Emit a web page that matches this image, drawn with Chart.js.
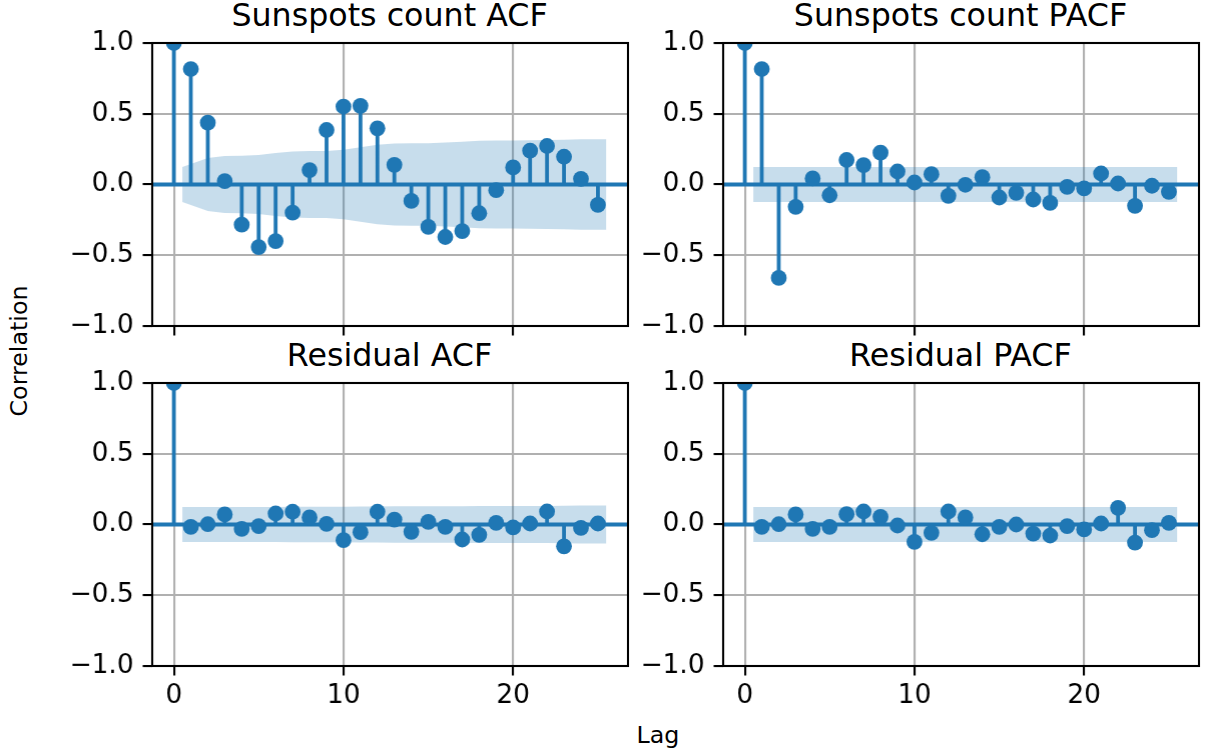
<!DOCTYPE html>
<html><head><meta charset="utf-8">
<script src="https://cdn.jsdelivr.net/npm/chart.js@4.4.0/dist/chart.umd.min.js"></script>
<style>
html,body{margin:0;padding:0;background:#fff;}
body{width:1208px;height:754px;overflow:hidden;position:relative;font-family:"DejaVu Sans";color:#000;}
canvas{position:absolute;}
.txt{position:absolute;line-height:1;white-space:nowrap;}
.title{font-size:31.7px;transform:translateX(-50%);}
</style></head><body>
<div class="txt title" id="t0"></div>
<div class="txt title" id="t1"></div>
<div class="txt title" id="t2"></div>
<div class="txt title" id="t3"></div>
<div class="txt" id="ylab" style="font-size:23.75px;left:20px;top:351px;transform:translate(-50%,-50%) rotate(-90deg);"></div>
<div class="txt" id="xlab" style="font-size:23.75px;left:658px;top:724px;transform:translateX(-50%);"></div>
<canvas id="c0" width="640" height="360"></canvas>
<canvas id="c1" width="590" height="360"></canvas>
<canvas id="c2" width="640" height="380"></canvas>
<canvas id="c3" width="590" height="380"></canvas>
<script>
// ---- data ----
const titles = ["Sunspots count ACF", "Sunspots count PACF", "Residual ACF", "Residual PACF"];
const yLabel = "Correlation";
const xLabel = "Lag";
const lags = [0,1,2,3,4,5,6,7,8,9,10,11,12,13,14,15,16,17,18,19,20,21,22,23,24,25];
const sunspotsAcf = [1.0,0.816,0.437,0.024,-0.284,-0.442,-0.400,-0.199,0.102,0.385,0.551,0.556,0.397,0.139,-0.116,-0.300,-0.371,-0.329,-0.203,-0.040,0.121,0.239,0.272,0.196,0.040,-0.144];
const sunspotsPacf = [1.0,0.816,-0.660,-0.158,0.043,-0.076,0.173,0.137,0.225,0.092,0.014,0.073,-0.080,-0.002,0.052,-0.092,-0.059,-0.106,-0.130,-0.017,-0.028,0.078,0.007,-0.151,-0.009,-0.052];
const residualAcf = [1.0,-0.017,0.002,0.071,-0.031,-0.012,0.078,0.090,0.050,0.005,-0.111,-0.054,0.090,0.035,-0.052,0.019,-0.017,-0.106,-0.073,0.012,-0.021,0.007,0.092,-0.154,-0.024,0.007];
const residualPacf = [1.0,-0.017,0.002,0.071,-0.031,-0.017,0.073,0.092,0.054,-0.007,-0.123,-0.059,0.092,0.050,-0.069,-0.017,0.000,-0.064,-0.078,-0.012,-0.035,0.007,0.118,-0.128,-0.040,0.012];
const bandLags = [0.5,2,3,4,5,6,7,8,9,10,11,12,13,14,15,16,17,18,19,20,21,22,23,24,25.5];
const sunspotsAcfBand = [0.123,0.188,0.202,0.203,0.209,0.222,0.233,0.236,0.237,0.246,0.264,0.281,0.290,0.291,0.292,0.297,0.303,0.309,0.311,0.311,0.312,0.314,0.317,0.319,0.319];
const sunspotsPacfBand = [0.123,0.123,0.123,0.123,0.123,0.123,0.123,0.123,0.123,0.123,0.123,0.123,0.123,0.123,0.123,0.123,0.123,0.123,0.123,0.123,0.123,0.123,0.123,0.123,0.123];
const residualAcfBand = [0.123,0.123,0.123,0.124,0.124,0.124,0.125,0.126,0.126,0.126,0.128,0.128,0.129,0.129,0.129,0.129,0.129,0.130,0.131,0.131,0.131,0.131,0.132,0.134,0.134];
const residualPacfBand = [0.123,0.123,0.123,0.123,0.123,0.123,0.123,0.123,0.123,0.123,0.123,0.123,0.123,0.123,0.123,0.123,0.123,0.123,0.123,0.123,0.123,0.123,0.123,0.123,0.123];
const xTicks = [0,10,20];
const yTicks = [-1.0,-0.5,0.0,0.5,1.0];
const xRange = [-1.275, 26.775];
const yRange = [-1.0, 1.0];

// ---- style / layout ----
const BLUE = '#1f77b4';
const BAND = 'rgba(31,119,180,0.25)';
const FONT = 'DejaVu Sans';
const PLOT_W = 475, PLOT_H = 283;
const plotBoxes = [ {left:152, top:43}, {left:723, top:43}, {left:152, top:383}, {left:723, top:383} ];

['t0','t1','t2','t3'].forEach((id,i)=>{ document.getElementById(id).textContent = titles[i]; });
document.getElementById('ylab').textContent = yLabel;
document.getElementById('xlab').textContent = xLabel;
plotBoxes.forEach((b,i)=>{ const el=document.getElementById('t'+i); el.style.left=(b.left+PLOT_W/2)+'px'; el.style.top=(b.top-43)+'px'; });

const framePlugin = {
  id:'frame',
  afterDraw(chart){
    const a = chart.chartArea, ctx = chart.ctx;
    ctx.save();
    ctx.strokeStyle = '#000';
    ctx.lineWidth = 2.1;
    ctx.strokeRect(a.left, a.top, a.right-a.left, a.bottom-a.top);
    ctx.restore();
  }
};

function fmtY(v){
  const s = Math.abs(v).toFixed(1);
  return (v < 0 ? '\u2212' : '') + s;
}

function makeChart(idx, values, band, showXLabels, yAxisW, xAxisH){
  const canvas = document.getElementById('c'+idx);
  const stems = [];
  lags.forEach((l,i)=>{ stems.push({x:l,y:0}); stems.push({x:l,y:values[i]}); stems.push({x:l,y:null}); });
  const chart = new Chart(canvas, {
    type:'scatter',
    data:{ datasets:[
      { data: bandLags.map((x,i)=>({x, y: band[i]})), showLine:true, borderWidth:0, borderColor:'rgba(0,0,0,0)', pointRadius:0, fill:'+1', backgroundColor:BAND, order:5 },
      { data: bandLags.map((x,i)=>({x, y: -band[i]})), showLine:true, borderWidth:0, borderColor:'rgba(0,0,0,0)', pointRadius:0, fill:false, order:5 },
      { data: stems, showLine:true, spanGaps:false, borderColor:BLUE, borderWidth:3.8, borderCapStyle:'butt', pointRadius:0, order:3 },
      { data: [{x:xRange[0],y:0},{x:xRange[1],y:0}], showLine:true, borderColor:BLUE, borderWidth:3.8, pointRadius:0, order:2 },
      { data: lags.map((l,i)=>({x:l,y:values[i]})), showLine:false, pointRadius:7.9, pointBackgroundColor:BLUE, pointBorderWidth:0, pointBorderColor:BLUE, order:1 }
    ]},
    options:{
      responsive:false, maintainAspectRatio:false, animation:false, events:[], devicePixelRatio:1,
      layout:{ padding:{ top:30, right:6, left:0, bottom:0 } },
      plugins:{ legend:{display:false}, tooltip:{enabled:false}, title:{display:false} },
      scales:{
        x:{ type:'linear', min:xRange[0], max:xRange[1],
            afterBuildTicks(ax){ ax.ticks = xTicks.map(v=>({value:v})); },
            afterFit(ax){ ax.height = xAxisH; },
            grid:{ color:'#b0b0b0', lineWidth:2.1, tickColor:'#000', tickWidth:2.1, tickLength:9.5, drawTicks:true },
            border:{ display:false },
            ticks:{ autoSkip:false, maxRotation:0, minRotation:0, padding:5, color:'#000', font:{family:FONT, size:26.4},
                    callback:(v)=> showXLabels ? String(v) : '' }
        },
        y:{ type:'linear', min:yRange[0], max:yRange[1],
            afterBuildTicks(ax){ ax.ticks = yTicks.map(v=>({value:v})); },
            afterFit(ax){ ax.width = yAxisW; },
            grid:{ color:'#b0b0b0', lineWidth:2.1, tickColor:'#000', tickWidth:2.1, tickLength:9.5, drawTicks:true },
            border:{ display:false },
            ticks:{ autoSkip:false, padding:9, color:'#000', font:{family:FONT, size:26.4}, callback:(v)=>fmtY(v) }
        }
      }
    },
    plugins:[framePlugin]
  });
  // make the plot area exactly PLOT_W x PLOT_H, then place it at its figure position
  for (let k=0;k<3;k++){
    const a = chart.chartArea;
    const dw = PLOT_W - (a.right - a.left), dh = PLOT_H - (a.bottom - a.top);
    if (Math.abs(dw) < 0.01 && Math.abs(dh) < 0.01) break;
    chart.resize(chart.width + dw, chart.height + dh);
  }
  const a = chart.chartArea;
  canvas.style.left = (plotBoxes[idx].left - a.left) + 'px';
  canvas.style.top = (plotBoxes[idx].top - a.top) + 'px';
}

makeChart(0, sunspotsAcf, sunspotsAcfBand, false, 152, 40);
makeChart(1, sunspotsPacf, sunspotsPacfBand, false, 100, 40);
makeChart(2, residualAcf, residualAcfBand, true, 152, 60);
makeChart(3, residualPacf, residualPacfBand, true, 100, 60);
</script>
</body></html>
